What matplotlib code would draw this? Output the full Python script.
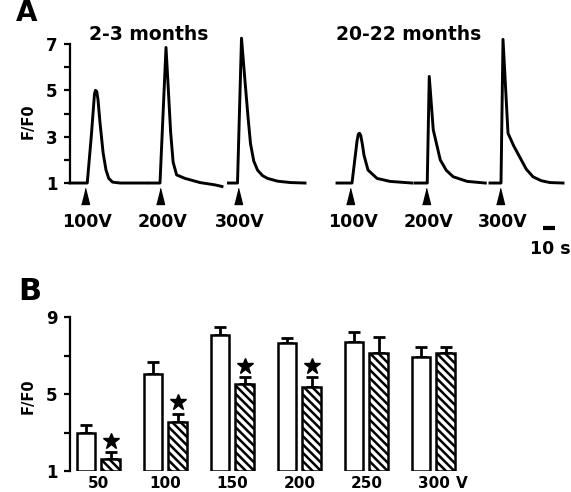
import numpy as np
import matplotlib
matplotlib.use("Agg")
import matplotlib.pyplot as plt
import matplotlib.transforms as mtransforms

plt.rcParams['font.family'] = ['DejaVu Sans']
plt.rcParams['font.weight'] = 'bold'
plt.rcParams['hatch.linewidth'] = 1.8

# ---- panel A: Ca2+ transients (time in s, relative to stimulus; F/F0) ----
stim_times = [12, 72, 134, 224, 285, 344]          # stimulus onsets along the record (s)
stim_labels = ["100V", "200V", "300V", "100V", "200V", "300V"]
age_titles = ["2-3 months", "20-22 months"]

young_100_t = [-12, 1.8, 5, 7.6, 8.4, 9.4, 10.4, 12, 14.5, 16.8, 19, 22, 28, 50]
young_100_v = [1.0, 1.0, 3.0, 4.85, 5.0, 4.95, 4.6, 3.6, 2.3, 1.56, 1.2, 1.04, 1.0, 1.0]
young_200_t = [-8, 0, 4.8, 6.5, 8.5, 10.5, 13.3, 20, 32, 44, 49.6]
young_200_v = [1.0, 1.0, 6.85, 5.2, 3.2, 1.9, 1.35, 1.2, 1.02, 0.92, 0.85]
young_300_t = [-7.2, 0, 3.2, 6, 8.5, 10.4, 13, 16, 20, 24, 32, 42.4, 54]
young_300_v = [1.0, 1.0, 7.25, 5.4, 3.8, 2.7, 1.95, 1.56, 1.32, 1.2, 1.08, 1.02, 1.0]
old_100_t = [-10.4, 1.6, 5.6, 6.6, 7.6, 8.6, 9.8, 11.2, 14.4, 21.6, 32, 49.6]
old_100_v = [1.0, 1.0, 2.8, 3.1, 3.15, 3.05, 2.7, 2.2, 1.56, 1.2, 1.07, 1.0]
old_200_t = [-8.8, 0.8, 2.4, 5.6, 11.2, 16, 21.6, 32.8, 47.2]
old_200_v = [1.0, 1.0, 5.6, 3.3, 2.0, 1.55, 1.27, 1.07, 1.0]
old_300_t = [-8, 0.8, 2.4, 6.4, 11, 16, 21, 26.4, 33, 40, 50.4]
old_300_v = [1.0, 1.0, 7.2, 3.15, 2.6, 2.1, 1.6, 1.27, 1.1, 1.02, 1.0]

traces_t = [young_100_t, young_200_t, young_300_t, old_100_t, old_200_t, old_300_t]
traces_v = [young_100_v, young_200_v, young_300_v, old_100_v, old_200_v, old_300_v]
scale_bar_s = 10

# ---- panel B: peak F/F0 vs stimulus voltage ----
voltages = ["50", "100", "150", "200", "250", "300"]
young_mean = [3.0, 6.04, 8.07, 7.65, 7.7, 6.92]
young_sem = [0.4, 0.62, 0.43, 0.25, 0.5, 0.52]
old_mean = [1.6, 3.55, 5.52, 5.36, 7.13, 7.15]
old_sem = [0.38, 0.41, 0.36, 0.52, 0.83, 0.3]
significant = [True, True, True, True, False, False]

W, H = 571, 492
fig = plt.figure(figsize=(W / 100, H / 100), dpi=100)


def fx(px):
    return px / W


def fy(py):
    return 1 - py / H


# ---------------- panel A ----------------
axA = fig.add_axes([fx(70), fy(206.2), 501 / W, (206.2 - 32.4) / H])
axA.set_xlim(0, 400.8)
axA.set_ylim(0, 7.5)
for t0, tt, vv in zip(stim_times, traces_t, traces_v):
    axA.plot(np.array(tt) + t0, vv, color='k', lw=2.1, solid_joinstyle='round', clip_on=False)

tri = [(-0.25, -0.5), (0.25, -0.5), (0, 0.5)]
axA.plot(stim_times, [0.42] * len(stim_times), ls='none', marker=tri, ms=11.5, color='k', clip_on=False)
for t0, lab in zip(stim_times, stim_labels):
    axA.text(t0 + 2, -0.29, lab, ha='center', va='top', fontsize=12.5, fontweight='bold')

bar_end = 388
axA.plot([bar_end - scale_bar_s, bar_end], [-0.94, -0.94], color='k', lw=3, solid_capstyle='butt', clip_on=False)
axA.text(bar_end - 4, -1.45, "10 s", ha='center', va='top', fontsize=12.5, fontweight='bold')

for s in ['top', 'right', 'bottom']:
    axA.spines[s].set_visible(False)
axA.spines['left'].set_bounds(1, 7)
axA.spines['left'].set_linewidth(1.6)
axA.set_xticks([])
axA.set_yticks([1, 3, 5, 7])
axA.set_yticks([2, 4, 6], minor=True)
axA.tick_params(axis='y', which='both', direction='out', length=4, width=1.6, labelsize=12, pad=5)

fig.text(fx(149), fy(40), age_titles[0], ha='center', va='baseline', fontsize=13.5, fontweight='bold')
fig.text(fx(409), fy(40), age_titles[1], ha='center', va='baseline', fontsize=13.5, fontweight='bold')
fig.text(fx(16), fy(21), "A", ha='left', va='baseline', fontsize=20, fontweight='bold')
fig.text(fx(28), fy(121), "F/F0", rotation=90, ha='center', va='center', fontsize=10.5, fontweight='bold')

# ---------------- panel B ----------------
axB = fig.add_axes([fx(70), fy(471), 400 / W, 154 / H])
axB.set_xlim(-0.425, 5.545)
axB.set_ylim(1, 9)
x = np.arange(len(voltages))
off, bw = 0.18, 0.27
ym = np.array(young_mean)
om = np.array(old_mean)
axB.bar(x - off, ym - 1, bottom=1, width=bw, color='white', edgecolor='k', lw=1.8, zorder=3)
axB.bar(x + off, om - 1, bottom=1, width=bw, color='white', edgecolor='k', lw=1.8,
        hatch='\\\\\\\\', zorder=3)
axB.errorbar(x - off, ym, yerr=[np.zeros(len(x)), young_sem], fmt='none', ecolor='k',
             elinewidth=2, capsize=4, capthick=2, zorder=2)
axB.errorbar(x + off, om, yerr=[np.zeros(len(x)), old_sem], fmt='none', ecolor='k',
             elinewidth=2, capsize=4, capthick=2, zorder=2)
sig = np.array(significant)
star_y = om + np.array(old_sem) + 0.6
axB.plot((x + off)[sig], star_y[sig], ls='none', marker='*', ms=12, color='k', clip_on=False)

for s in ['top', 'right', 'bottom']:
    axB.spines[s].set_visible(False)
axB.spines['left'].set_bounds(1, 9)
axB.spines['left'].set_linewidth(1.6)
axB.set_xticks([])
axB.set_yticks([1, 5, 9])
axB.set_yticks([3, 7], minor=True)
axB.tick_params(axis='y', which='both', direction='out', length=4, width=1.6, labelsize=12, pad=5)

blend = mtransforms.blended_transform_factory(axB.transData, axB.transAxes)
for xi, lab in zip(x, voltages):
    axB.text(xi, -0.035, lab, transform=blend, ha='center', va='top', fontsize=11, fontweight='bold')
axB.text(5.33, -0.035, "V", transform=blend, ha='left', va='top', fontsize=11, fontweight='bold')

fig.text(fx(18), fy(300), "B", ha='left', va='baseline', fontsize=22, fontweight='bold')
fig.text(fx(28), fy(396), "F/F0", rotation=90, ha='center', va='center', fontsize=10.5, fontweight='bold')

fig.savefig("out.png", dpi=100)
